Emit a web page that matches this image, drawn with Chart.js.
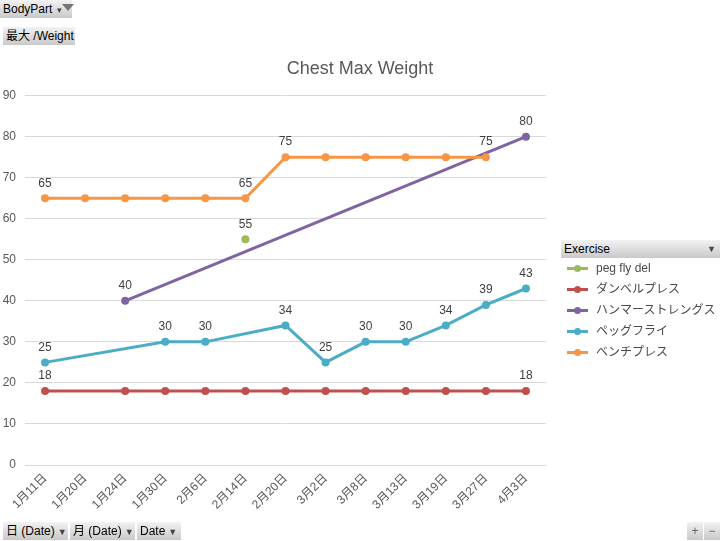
<!DOCTYPE html>
<html>
<head>
<meta charset="utf-8">
<script src="https://cdn.jsdelivr.net/npm/chart.js@4.4.1/dist/chart.umd.min.js"></script>
<style>
  html, body { margin: 0; padding: 0; background: #fff; }
  body { width: 720px; height: 541px; position: relative; overflow: hidden;
         font-family: "Liberation Sans", Arial, "Noto Sans CJK JP", sans-serif; }
  #wrap { position: absolute; left: 0; top: 0; width: 720px; height: 541px; }
  .btn { position: absolute; height: 18px; line-height: 18px; font-size: 12px; color: #000;
         background: linear-gradient(#f2f2f2, #c9c9c9); padding: 0 3px; box-sizing: border-box;
         white-space: nowrap; }
  .arr { font-size: 9px; color: #444; margin-left: 3px; }
  .funnel { display: inline-block; width: 0; height: 0; border-left: 6px solid transparent;
            border-right: 6px solid transparent; border-top: 7px solid #777; vertical-align: middle;
            position: relative; top: -2px; }
  .legend { position: absolute; left: 561px; top: 258px; font-size: 12px; color: #4a4a4a; }
  .legend .item { position: relative; height: 21px; line-height: 21px; padding-left: 35px; white-space: nowrap; }
  .legend .ln { position: absolute; left: 6px; top: 9px; width: 21px; height: 3px; }
  .legend .dot { position: absolute; left: 13px; top: 7px; width: 7px; height: 7px; border-radius: 50%; }
</style>
</head>
<body>
<div id="wrap"><canvas id="chart-weight" width="720" height="541"></canvas></div>

<div class="btn" style="left:0;top:0;width:72px;">BodyPart <span class="arr" style="margin-left:1px">▾</span><span class="funnel"></span></div>
<div class="btn" style="left:3px;top:27px;width:72px;">最大 /Weight</div>
<div class="btn" style="left:561px;top:240px;width:159px;">Exercise<span class="arr" style="position:absolute;right:4px;">▼</span></div>
<div class="btn" style="left:3px;top:522px;width:65px;">日 (Date)<span class="arr">▼</span></div>
<div class="btn" style="left:70px;top:522px;width:65px;">月 (Date)<span class="arr">▼</span></div>
<div class="btn" style="left:137px;top:522px;width:44px;">Date<span class="arr">▼</span></div>
<div class="btn" style="left:687px;top:522px;width:16px;color:#666;text-align:center;padding:0;">+</div>
<div class="btn" style="left:704px;top:522px;width:16px;color:#666;text-align:center;padding:0;">−</div>

<div class="legend" id="legend"></div>

<script>
const dates = ['1月11日', '1月20日', '1月24日', '1月30日', '2月6日', '2月14日', '2月20日',
               '3月2日', '3月8日', '3月13日', '3月19日', '3月27日', '4月3日'];

const seriesNames = ['peg fly del', 'ダンベルプレス', 'ハンマーストレングス', 'ペッグフライ', 'ベンチプレス'];
const seriesColors = ['#9bbb59', '#c0504d', '#8064a2', '#4bacc6', '#f79646'];

const pegFlyDel = [null, null, null, null, null, 55, null, null, null, null, null, null, null];
const dumbbell  = [18, null, 18, 18, 18, 18, 18, 18, 18, 18, 18, 18, 18];
const hammer    = [null, null, 40, null, null, null, null, null, null, null, null, null, 80];
const pegFly    = [25, null, null, 30, 30, null, 34, 25, 30, 30, 34, 39, 43];
const bench     = [65, 65, 65, 65, 65, 65, 75, 75, 75, 75, 75, 75, null];

// which points carry a value label
const labelIdx = [
  [5],
  [0, 12],
  [2, 12],
  [0, 3, 4, 6, 7, 8, 9, 10, 11, 12],
  [0, 5, 6, 11]
];

const yTicks = { min: 0, max: 90, step: 10 };

const allSeries = [pegFlyDel, dumbbell, hammer, pegFly, bench];

const valueLabels = {
  id: 'valueLabels',
  afterDatasetsDraw(chart) {
    const ctx = chart.ctx;
    ctx.save();
    ctx.font = '12px "Liberation Sans", Arial, sans-serif';
    ctx.fillStyle = '#404040';
    ctx.textAlign = 'center';
    ctx.textBaseline = 'middle';
    chart.data.datasets.forEach((ds, i) => {
      const meta = chart.getDatasetMeta(i);
      labelIdx[i].forEach(k => {
        const pt = meta.data[k];
        if (!pt || ds.data[k] == null) return;
        ctx.fillText(String(ds.data[k]), pt.x, pt.y - 15);
      });
    });
    ctx.restore();
  }
};

new Chart(document.getElementById('chart-weight'), {
  type: 'line',
  data: {
    labels: dates,
    datasets: allSeries.map((vals, i) => ({
      label: seriesNames[i],
      data: vals,
      borderColor: seriesColors[i],
      backgroundColor: seriesColors[i],
      borderWidth: 3,
      pointRadius: 4,
      pointHoverRadius: 4,
      pointBorderWidth: 0,
      spanGaps: true,
      tension: 0,
      order: allSeries.length - 1 - i
    }))
  },
  options: {
    responsive: false,
    animation: false,
    layout: { padding: 0 },
    scales: {
      x: {
        offset: true,
        grid: { display: false, drawTicks: false },
        border: { display: false },
        ticks: {
          autoSkip: false, maxRotation: 45, minRotation: 45, padding: 6,
          color: '#595959', font: { size: 12, family: '"Liberation Sans", Arial, "Noto Sans CJK JP", sans-serif' }
        },
        afterFit: s => { s.height = 76; }
      },
      y: {
        min: yTicks.min, max: yTicks.max,
        grid: { color: '#d9d9d9', drawTicks: false },
        border: { display: false },
        ticks: { stepSize: yTicks.step, padding: 9, color: '#595959',
                 font: { size: 12, family: '"Liberation Sans", Arial, sans-serif' } },
        afterFit: s => { s.width = 25; }
      },
      side: {
        position: 'right',
        grid: { display: false, drawTicks: false },
        border: { display: false },
        ticks: { display: false },
        afterFit: s => { s.width = 174; }
      }
    },
    plugins: {
      legend: { display: false },
      tooltip: { enabled: false },
      title: {
        display: true,
        text: 'Chest Max Weight',
        color: '#595959',
        font: { size: 18, weight: 'normal', family: '"Liberation Sans", Arial, sans-serif' },
        padding: { top: 58, bottom: 16 }
      }
    }
  },
  plugins: [valueLabels]
});

document.getElementById('legend').innerHTML = seriesNames.map((n, i) => `
  <div class="item">
    <span class="ln" style="background:${seriesColors[i]}"></span>
    <span class="dot" style="background:${seriesColors[i]}"></span>${n}
  </div>`).join('');
</script>
</body>
</html>
